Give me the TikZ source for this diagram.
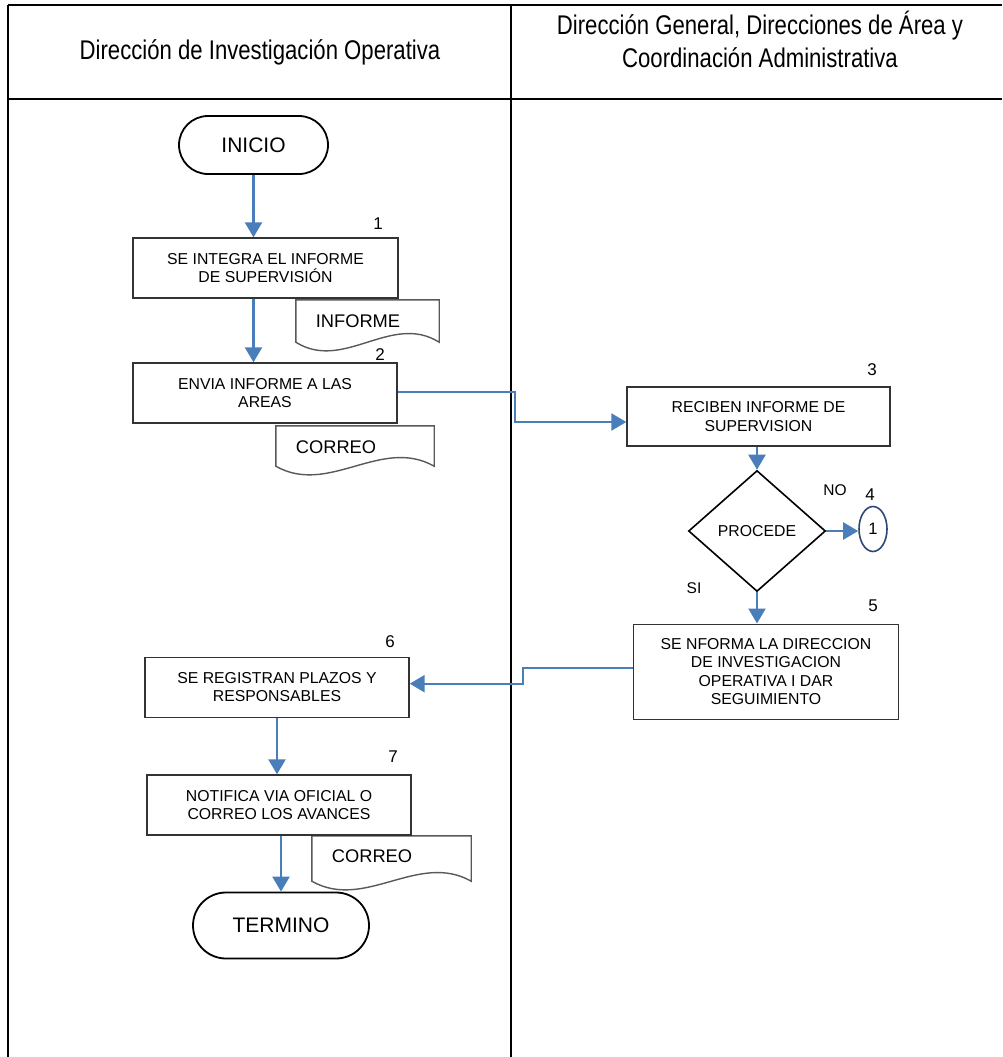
\documentclass[tikz,border=0pt]{standalone}
\usepackage{fontspec}
\setmainfont{Liberation Sans}
\newfontfamily\narrowfont[FakeStretch=0.82]{Liberation Sans}
\usetikzlibrary{shapes.geometric,arrows.meta,calc}
\definecolor{flowblue}{HTML}{4A7EBB}
\definecolor{navy}{HTML}{2C4A78}
\begin{document}
\begin{tikzpicture}[x=1pt,y=-1pt,
  lane/.style={line width=2pt,black},
  stepbox/.style={draw=black!80,line width=1.4pt,fill=white,inner sep=0pt,
    align=center,font=\fontsize{15.8}{18.5}\selectfont},
  terminal/.style={draw=black,line width=1.8pt,fill=white,inner sep=0pt,
    font=\fontsize{21}{24}\selectfont},
  decision/.style={diamond,draw=black,line width=1.6pt,fill=white,inner sep=0pt,
    font=\fontsize{15.8}{18.5}\selectfont},
  connector/.style={ellipse,draw=navy,line width=1.6pt,fill=white,inner sep=0pt,
    minimum width=28pt,minimum height=45pt,font=\fontsize{16.5}{18}\selectfont},
  docarea/.style={inner sep=0pt},
  docline/.style={draw=black!65,line width=1.4pt,fill=white},
  doclabel/.style={inner sep=0pt,font=\fontsize{18.3}{20}\selectfont},
  stepno/.style={inner sep=0pt,font=\fontsize{17}{19}\selectfont},
  answer/.style={inner sep=0pt,font=\fontsize{15.5}{18}\selectfont},
  flow/.style={draw=flowblue,line width=2.4pt,-{Triangle[length=15pt,width=17pt]}},
  header/.style={inner sep=0pt,align=center,font=\narrowfont\fontsize{27}{33}\selectfont}]

\useasboundingbox (0,0) rectangle (1002,1057);

% swimlane table
\coordinate (tl) at (8,5);
\coordinate (hl) at (8,99);
\coordinate (mt) at (511,5);
\draw[lane] (tl) -- (1002,5);
\draw[lane] (hl) -- (1002,99);
\draw[lane] (tl) -- (8,1057);
\draw[lane] (mt) -- (511,1057);

\node[header] (h1) at (260,52) {Dirección de Investigación Operativa};
\node[header] (h2) at (760,39) {Dirección General, Direcciones de Área y\\Coordinación Administrativa};

% documents
\node[docarea,minimum width=143pt,minimum height=42pt] (d1) at (367.5,321) {};
\draw[docline] (d1.north west) -- (d1.north east) -- (d1.south east)
  .. controls +(-48,-30) and +(48,30) .. (d1.south west) -- cycle;
\node[doclabel] (d1t) at (358,321) {INFORME};

\node[docarea,minimum width=158pt,minimum height=40pt] (d2) at (355,446) {};
\draw[docline] (d2.north west) -- (d2.north east) -- (d2.south east)
  .. controls +(-53,-30) and +(53,30) .. (d2.south west) -- cycle;
\node[doclabel] (d2t) at (336,447) {CORREO};

\node[docarea,minimum width=159pt,minimum height=45pt] (d3) at (391.5,858.5) {};
\draw[docline] (d3.north west) -- (d3.north east) -- (d3.south east)
  .. controls +(-53,-30) and +(53,30) .. (d3.south west) -- cycle;
\node[doclabel] (d3t) at (372,856) {CORREO};

% process steps
\node[terminal,rounded corners=29pt,minimum width=149pt,minimum height=58pt] (inicio) at (253.5,145) {INICIO};
\node[stepbox,minimum width=265pt,minimum height=60pt] (b1) at (265.5,268) {SE INTEGRA EL INFORME\\DE SUPERVISIÓN};
\node[stepbox,minimum width=264pt,minimum height=60pt] (b2) at (265,393) {ENVIA INFORME A LAS\\AREAS};
\node[stepbox,minimum width=263pt,minimum height=59pt] (b3) at (758.5,416.5) {RECIBEN INFORME DE\\SUPERVISION};
\node[decision,minimum width=137pt,minimum height=121pt] (dia) at (757,531) {PROCEDE};
\node[connector] (c4) at (873,529) {1};
\node[stepbox,minimum width=265pt,minimum height=95pt] (b5) at (766,671.7) {SE NFORMA LA DIRECCION\\DE INVESTIGACION\\OPERATIVA I DAR\\SEGUIMIENTO};
\node[stepbox,minimum width=264pt,minimum height=60pt] (b6) at (277,687.3) {SE REGISTRAN PLAZOS Y\\RESPONSABLES};
\node[stepbox,minimum width=264pt,minimum height=60pt] (b7) at (279,805) {NOTIFICA VIA OFICIAL O\\CORREO LOS AVANCES};
\node[terminal,rounded corners=33pt,minimum width=176pt,minimum height=66pt] (termino) at (281,925.5) {TERMINO};

% step numbers and answers
\node[stepno] (n1) at (378,224) {1};
\node[stepno] (n2) at (380,355) {2};
\node[stepno] (n3) at (872,370) {3};
\node[stepno] (n4) at (870,495) {4};
\node[stepno] (n5) at (873,606) {5};
\node[stepno] (n6) at (390,642) {6};
\node[stepno] (n7) at (393,757) {7};
\node[answer] (no) at (835,490) {NO};
\node[answer] (si) at (694,588) {SI};

% connectors
\coordinate (j1) at (515,392);
\coordinate (j2) at (523,668);
\coordinate (b3in) at ([yshift=-5.5pt]b3.west);
\coordinate (b6in) at ([yshift=3.6pt]b6.east);
\draw[flow] (b2.east |- j1) -- (j1) -- (j1 |- b3in) -- (b3in);
\draw[flow] (inicio.south) -- (inicio.south |- b1.north);
\draw[flow] (b1.south -| inicio.south) -- (b2.north -| inicio.south);
\draw[flow] (b3.south -| dia.north) -- (dia.north);
\draw[flow] (dia.east) -- (dia.east -| c4.west);
\draw[flow] (dia.south) -- (dia.south |- b5.north);
\draw[flow] (b5.west |- j2) -- (j2) -- (j2 |- b6in) -- (b6in);
\draw[flow] (b6.south) -- (b6.south |- b7.north);
\draw[flow] (b7.south -| termino.north) -- (termino.north);
\end{tikzpicture}
\end{document}
